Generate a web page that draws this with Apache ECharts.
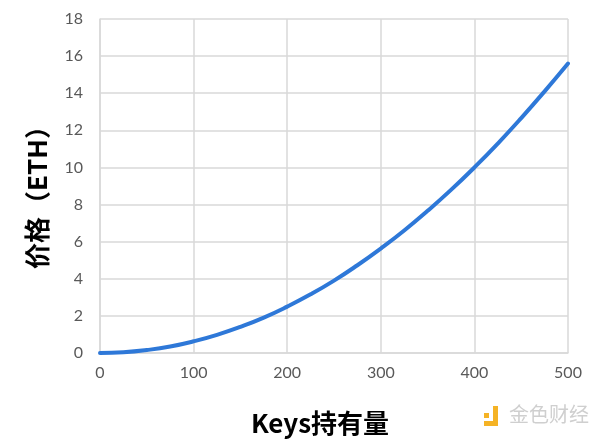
<!DOCTYPE html>
<html>
<head>
<meta charset="utf-8">
<script src="https://cdn.jsdelivr.net/npm/echarts@6/dist/echarts.min.js"></script>
<style>html,body{margin:0;padding:0;background:#fff}#c{width:600px;height:443px}</style>
</head>
<body>
<div id="c"></div>
<script>
const keys = [0,25,50,75,100,125,150,175,200,225,250,275,300,325,350,375,400,425,450,475,500];
const prices = [0,0.04,0.16,0.35,0.63,0.98,1.41,1.91,2.5,3.16,3.9,4.73,5.63,6.6,7.66,8.79,10,11.29,12.66,14.1,15.6];
const xTitle = 'Keys持有量';
const yTitle = '价格（ETH）';
const watermark = '金色财经';

const chart = echarts.init(document.getElementById('c'));
const gridColor = '#d9d9d9';
const labelStyle = {color:'#595959', fontFamily:'Lato, "Noto Sans", sans-serif', fontSize:16};
chart.setOption({
  animation:false,
  grid:{left:100, right:32, top:19, bottom:90},
  xAxis:{
    type:'value', min:0, max:500, interval:100,
    name:xTitle, nameLocation:'middle', nameGap:57,
    nameTextStyle:{color:'#000', fontWeight:'bold', fontSize:26, fontFamily:'"Noto Sans CJK SC", sans-serif', padding:[0,28,0,0]},
    axisLine:{show:true, lineStyle:{color:gridColor, width:1.5}},
    axisTick:{show:false},
    axisLabel:Object.assign({margin:12}, labelStyle),
    splitLine:{show:true, lineStyle:{color:gridColor, width:1.5}}
  },
  yAxis:{
    type:'value', min:0, max:18, interval:2,
    name:yTitle, nameLocation:'middle', nameGap:50, nameRotate:90,
    nameTextStyle:{color:'#000', fontWeight:'bold', fontSize:26, fontFamily:'"Noto Sans CJK SC", sans-serif', padding:[0,10,0,0]},
    axisLine:{show:true, lineStyle:{color:gridColor, width:1.5}},
    axisTick:{show:false},
    axisLabel:Object.assign({margin:17}, labelStyle),
    splitLine:{show:true, lineStyle:{color:gridColor, width:1.5}}
  },
  series:[{
    type:'line', smooth:true, showSymbol:false,
    data:keys.map((k,i)=>[k,prices[i]]),
    lineStyle:{color:'#2E78D8', width:4, cap:'round'}
  }],
  graphic:[
    {type:'rect', left:484, top:413, shape:{width:5, height:5}, style:{fill:'#F5B325'}},
    {type:'rect', left:493, top:406, shape:{width:5, height:15}, style:{fill:'#F5B325'}},
    {type:'rect', left:484, top:421, shape:{width:14, height:5}, style:{fill:'#F5B325'}},
    {type:'text', left:509, top:404, style:{text:watermark, fill:'#cfcfcf', font:'20px "Noto Sans CJK SC", sans-serif'}}
  ]
});
</script>
</body>
</html>
